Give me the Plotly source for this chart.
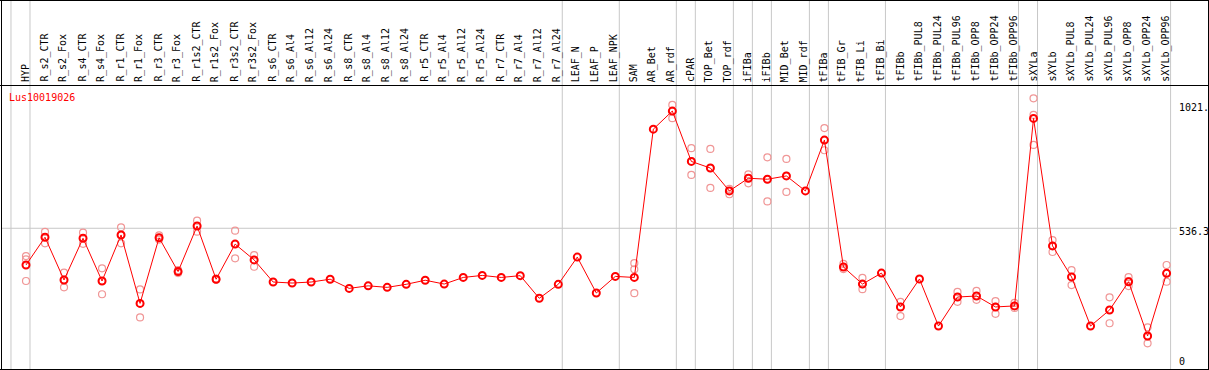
import plotly.graph_objects as go

W, H = 1209, 370

categories = ["HYP","R_s2_CTR","R_s2_Fox","R_s4_CTR","R_s4_Fox","R_r1_CTR","R_r1_Fox","R_r3_CTR","R_r3_Fox",
              "R_r1s2_CTR","R_r1s2_Fox","R_r3s2_CTR","R_r3s2_Fox","R_s6_CTR","R_s6_Al4","R_s6_Al12","R_s6_Al24",
              "R_s8_CTR","R_s8_Al4","R_s8_Al12","R_s8_Al24","R_r5_CTR","R_r5_Al4","R_r5_Al12","R_r5_Al24",
              "R_r7_CTR","R_r7_Al4","R_r7_Al12","R_r7_Al24","LEAF_N","LEAF_P","LEAF_NPK","SAM","AR_Bet","AR_rdf",
              "cPAR","TOP_Bet","TOP_rdf","iFIBa","iFIBb","MID_Bet","MID_rdf","tFIBa","tFIB_Gr","tFIB_Li","tFIB_Bi",
              "tFIBb","tFIBb_PUL8","tFIBb_PUL24","tFIBb_PUL96","tFIBb_OPP8","tFIBb_OPP24","tFIBb_OPP96",
              "sXYLa","sXYLb","sXYLb_PUL8","sXYLb_PUL24","sXYLb_PUL96","sXYLb_OPP8","sXYLb_OPP24","sXYLb_OPP96"]

means = [392,501,333,497,329,510,241,499,366,545,336,474,412,325,321,325,336,300,310,304,316,332,317,343,351,
         343,350,261,316,423,282,347,343,926,997,799,773,683,733,729,742,683,883,384,317,360,227,337,152,266,270,
         227,231,968,467,345,152,215,326,113,359]

N = None
rep_hi = [427,522,362,519,379,540,296,508,372,566,338,527,431] + [N]*19 + \
         [399,N,1021,851,848,691,748,815,809,N,930,396,341,N,247,N,N,286,290,250,243,1047,490,372,N,265,344,147,392]
rep_mid = [414,502,333,497,329,510,241,499,364,545,336,474,412] + [N]*19 + \
          [375,N,997,800,773,683,733,729,742,N,883,384,317,N,227,N,N,266,270,227,231,982,467,345,N,215,329,113,359]
rep_lo = [329,477,304,475,277,477,186,492,360,523,334,418,385] + [N]*19 + \
         [281,N,969,746,695,670,713,642,679,N,843,376,297,N,191,N,N,247,255,200,223,864,443,313,N,163,309,84,326]

gene_label = "Lus10019026"
axis_labels = ["1021.", "536.3", "0"]
grid_value = 536.3
group_ends = ["HYP","R_r7_Al24","LEAF_NPK","AR_rdf","cPAR","TOP_rdf","iFIBa","iFIBb","MID_rdf","tFIBa",
              "tFIB_Bi","tFIBb_OPP96","sXYLa","sXYLb_OPP96"]

# pixel calibration
x0_px, dx_px = 26.0, 19.01
y0_px, dy_px = 364.7, 0.2544
xr = [(0 - x0_px) / dx_px, (W - x0_px) / dx_px]
yr = [(y0_px - H) / dy_px, y0_px / dy_px]

def px(x):
    return x / W
def py(y):
    return 1 - y / H

FONT = "DejaVu Sans Mono"
fig = go.Figure()

fig.add_trace(go.Scatter(x=categories * 3, y=rep_hi + rep_mid + rep_lo, mode="markers",
                         marker=dict(symbol="circle-open", size=7, color="rgb(240,150,150)", line=dict(width=1.2)),
                         hoverinfo="skip", showlegend=False))
fig.add_trace(go.Scatter(x=categories, y=means, mode="lines+markers",
                         line=dict(color="#ff0000", width=1),
                         marker=dict(symbol="circle-open", size=7, color="#ff0000", line=dict(width=2)),
                         showlegend=False))

shapes = []
sep_pos = [-1] + [categories.index(c) for c in group_ends]
for i in sep_pos:
    shapes.append(dict(type="line", xref="x", yref="paper", x0=i + 0.21, x1=i + 0.21, y0=0, y1=1,
                       line=dict(color="#c8c8c8", width=1), layer="below"))
shapes.append(dict(type="line", xref="paper", yref="y", x0=px(1.5), x1=px(1177), y0=grid_value, y1=grid_value,
                   line=dict(color="#c8c8c8", width=1), layer="below"))
# frame and label separator
for (xa, ya, xb, yb) in [(0, 0.5, W, 0.5), (0, 85.5, W, 85.5), (0, 369.5, W, 369.5),
                         (1.5, 0, 1.5, H), (1208.5, 0, 1208.5, H)]:
    shapes.append(dict(type="line", xref="paper", yref="paper", x0=px(xa), x1=px(xb), y0=py(ya), y1=py(yb),
                       line=dict(color="black", width=1)))

annotations = []
for i, c in enumerate(categories):
    annotations.append(dict(x=i - 0.05, xref="x", y=py(83), yref="paper", text=c, textangle=-90,
                            showarrow=False, xanchor="center", yanchor="bottom", borderpad=0,
                            font=dict(family=FONT, size=10, color="black")))
annotations.append(dict(x=px(8), y=py(97), xref="paper", yref="paper", text=gene_label, showarrow=False,
                        xanchor="left", yanchor="middle", borderpad=0,
                        font=dict(family=FONT, size=10, color="#ff0000")))
for lab, ypix in zip(axis_labels, [107.5, 231.5, 361.5]):
    annotations.append(dict(x=px(1178), y=py(ypix), xref="paper", yref="paper", text=lab, showarrow=False,
                            xanchor="left", yanchor="middle", borderpad=0,
                            font=dict(family=FONT, size=10, color="black")))

fig.update_layout(width=W, height=H, margin=dict(l=0, r=0, t=0, b=0, pad=0),
                  plot_bgcolor="white", paper_bgcolor="white",
                  xaxis=dict(type="category", categoryorder="array", categoryarray=categories, range=xr,
                             showgrid=False, zeroline=False, showticklabels=False, ticks=""),
                  yaxis=dict(range=yr, showgrid=False, zeroline=False, showticklabels=False, ticks=""),
                  shapes=shapes, annotations=annotations)

fig.write_html("out.html", config={"displayModeBar": False},
               post_script="document.body.style.margin='0';document.body.style.overflow='hidden';")
